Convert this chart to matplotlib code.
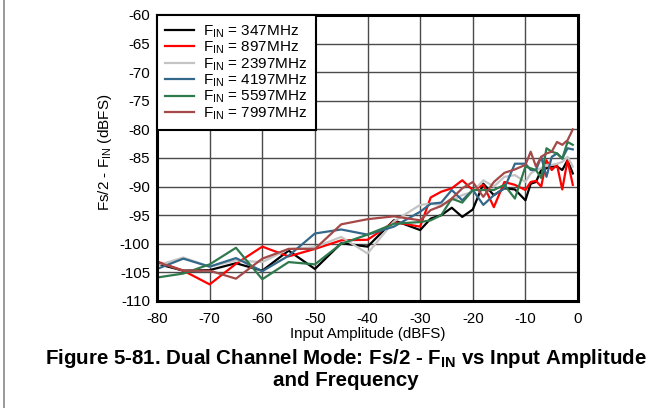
import matplotlib
matplotlib.use("Agg")
import matplotlib.pyplot as plt
from matplotlib.lines import Line2D

plt.rcParams['font.family'] = ['Liberation Sans', 'DejaVu Sans']
plt.rcParams['mathtext.fontset'] = 'custom'
plt.rcParams['mathtext.rm'] = 'Liberation Sans'
plt.rcParams['mathtext.it'] = 'Liberation Sans'
plt.rcParams['mathtext.bf'] = 'Liberation Sans:bold'
plt.rcParams['axes.unicode_minus'] = False

# Input amplitude sweep (dBFS)
amplitude = [-80, -75, -70, -65, -60, -55, -50, -45, -40, -35, -30,
             -28, -26, -24, -22, -20, -18, -16, -14, -12, -10,
             -9, -8, -7, -6, -5, -4, -3, -2, -1]

# Fs/2 - Fin spur level (dBFS) per input frequency
fin_347 = [-103.5, -104.7, -104.6, -103.4, -104.7, -101.2, -104.4, -99.9, -100.5, -95.9, -97.6,
           -95.6, -95.0, -93.7, -95.3, -94.0, -89.5, -91.5, -90.3, -90.5, -92.4,
           -89.5, -89.2, -87.1, -86.8, -86.5, -86.5, -87.1, -85.4, -87.7]
fin_897 = [-103.1, -104.7, -107.1, -103.5, -100.5, -102.2, -100.9, -99.4, -99.3, -96.2, -97.0,
           -91.9, -90.9, -90.3, -88.9, -90.6, -89.7, -93.6, -89.2, -89.7, -90.6,
           -89.2, -89.0, -90.0, -85.4, -87.1, -86.2, -90.5, -85.4, -89.7]
fin_2397 = [-103.8, -102.4, -104.0, -102.9, -103.2, -100.9, -100.6, -98.8, -101.7, -96.1, -93.2,
            -93.0, -93.2, -92.4, -91.5, -90.9, -88.9, -90.0, -88.3, -88.0, -89.2,
            -87.7, -87.1, -86.8, -86.2, -86.2, -86.0, -85.7, -84.8, -86.5]
fin_4197 = [-104.4, -102.6, -104.0, -102.5, -104.8, -102.1, -98.2, -97.5, -98.4, -97.0, -94.4,
            -93.0, -92.8, -90.6, -92.4, -90.6, -93.2, -91.5, -90.3, -86.0, -86.0,
            -87.1, -87.1, -84.8, -88.3, -84.8, -84.2, -85.1, -83.3, -83.5]
fin_5597 = [-105.9, -105.2, -103.6, -100.7, -106.2, -103.2, -103.6, -100.0, -98.4, -96.5, -96.2,
            -95.9, -95.0, -92.1, -92.8, -90.6, -90.6, -90.6, -89.7, -92.1, -86.5,
            -86.8, -87.1, -88.5, -83.3, -83.9, -84.2, -85.1, -82.2, -82.7]
fin_7997 = [-103.2, -104.7, -104.7, -106.1, -102.6, -100.9, -100.9, -96.6, -95.7, -95.2, -95.9,
            -94.1, -93.4, -92.1, -90.3, -89.2, -91.8, -89.2, -87.6, -87.0, -86.2,
            -83.9, -86.5, -84.8, -84.2, -83.9, -82.2, -82.7, -81.9, -80.0]

series = [
    (fin_347, 'F$_{\\mathrm{IN}}$ = 347MHz', 'black'),
    (fin_897, 'F$_{\\mathrm{IN}}$ = 897MHz', '#ff0000'),
    (fin_2397, 'F$_{\\mathrm{IN}}$ = 2397MHz', '#c4c4c4'),
    (fin_4197, 'F$_{\\mathrm{IN}}$ = 4197MHz', '#33688a'),
    (fin_5597, 'F$_{\\mathrm{IN}}$ = 5597MHz', '#2f7a4c'),
    (fin_7997, 'F$_{\\mathrm{IN}}$ = 7997MHz', '#a54848'),
]

fig = plt.figure(figsize=(6.62, 4.08), dpi=100)
ax = fig.add_axes([0.2372, 0.2623, 0.6360, 0.7010])

for values, label, color in series:
    ax.plot(amplitude, values, color=color, lw=1.6, label=label)

ax.set_xlim(-80, 0)
ax.set_ylim(-110, -60)
ax.set_xticks(range(-80, 1, 10))
ax.set_yticks(range(-110, -59, 5))
ax.grid(True, color='#4a4a4a', lw=1.0)
ax.tick_params(axis='x', length=0, labelsize=10.8, pad=8)
ax.tick_params(axis='y', length=0, labelsize=10.8, pad=5)
for s in ax.spines.values():
    s.set_linewidth(2.2)
    s.set_color('black')

ax.set_xlabel('Input Amplitude (dBFS)', fontsize=10.8, labelpad=1)
ax.set_ylabel('Fs/2 - F$_{\\mathrm{IN}}$ (dBFS)', fontsize=11)
ax.yaxis.set_label_coords(-0.102, 0.52)

leg = ax.legend(loc='upper left', fontsize=11, handlelength=1.9,
                labelspacing=0.0, borderaxespad=0, fancybox=False,
                framealpha=1, borderpad=0.55, handletextpad=0.55)
leg.get_frame().set_edgecolor('black')
leg.get_frame().set_linewidth(1.5)

fig.text(0.523, 0.122, 'Figure 5-81. Dual Channel Mode: Fs/2 - F$_{\\mathbf{IN}}$ vs Input Amplitude',
         ha='center', va='center', fontsize=14.8, fontweight='bold')
fig.text(0.523, 0.068, 'and Frequency', ha='center', va='center',
         fontsize=14.8, fontweight='bold')

# thin frame line at the left edge of the page
fig.add_artist(Line2D([0.006, 0.006], [0, 1], color='#888888', lw=1.2))

fig.savefig('out.png', dpi=100)
